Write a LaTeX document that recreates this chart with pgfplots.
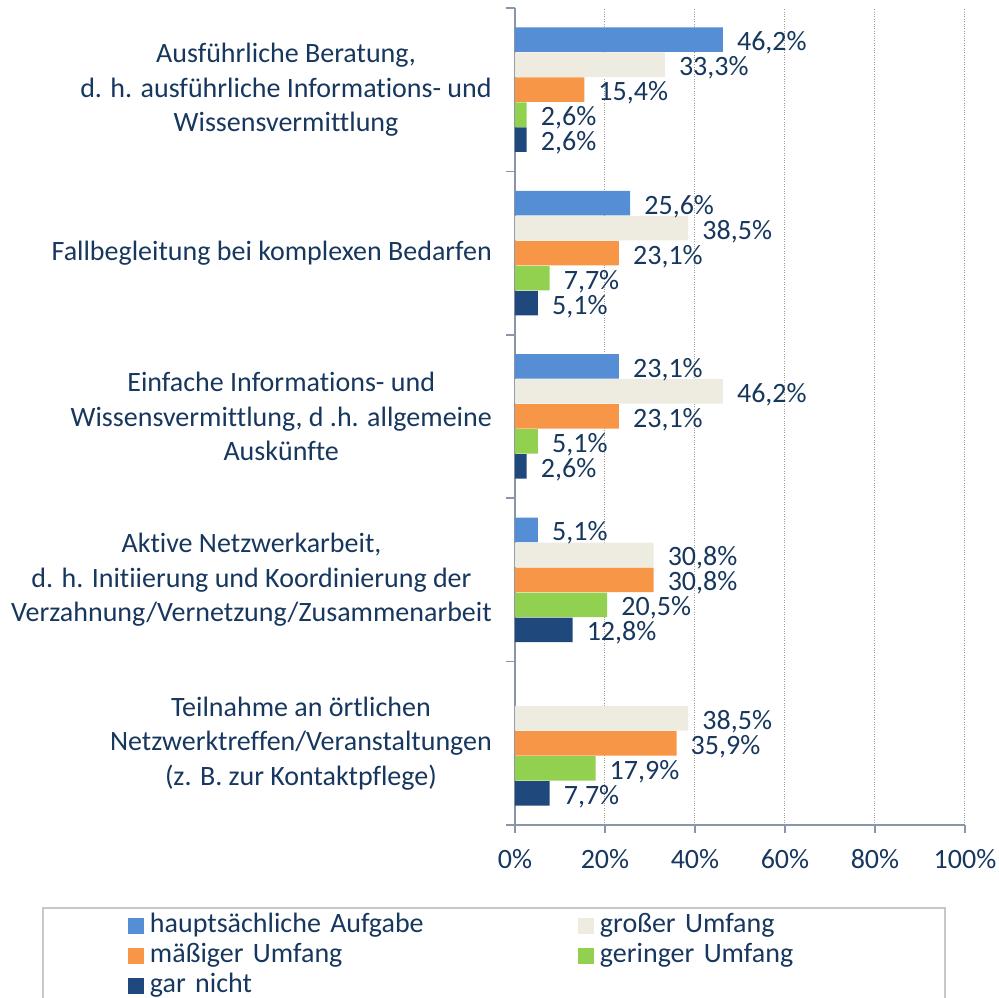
\documentclass[border=0pt]{standalone}
\usepackage{pgfplots}
\pgfplotsset{compat=1.18}
\usepackage{fontspec}
\setmainfont{Carlito}[Ligatures={NoCommon}]
\definecolor{c1}{HTML}{558ED5}
\definecolor{c2}{HTML}{EEECE1}
\definecolor{c3}{HTML}{F79646}
\definecolor{c4}{HTML}{92D050}
\definecolor{c5}{HTML}{1F497D}
\definecolor{txt}{HTML}{17375E}
\definecolor{axc}{HTML}{8B95A8}
\definecolor{grd}{HTML}{A39D8D}
\definecolor{lgf}{HTML}{C8C8C8}
\newcommand{\bigf}{\fontsize{28bp}{34.5bp}\selectfont}
\begin{document}
\begin{tikzpicture}
\begin{axis}[
  scale only axis, width=450bp, height=817bp,
  xbar=0.5bp, bar width=24.5bp,
  xmin=0, xmax=100, ymin=-0.5, ymax=4.5,
  axis x line*=bottom, axis y line*=left,
  axis line style={draw=axc, line width=1.5bp},
  /pgf/number format/assume math mode=true,
  xtick={0,20,40,60,80,100},
  xticklabels={0\%,20\%,40\%,60\%,80\%,100\%},
  tick align=outside,
  major tick length=8bp,
  x tick style={draw=axc, line width=1.5bp},
  xmajorgrids, grid style={draw=grd, dotted, line width=1bp},
  xticklabel style={font=\bigf, text=txt, inner sep=0pt, yshift=-16bp},
  ytick={0,1,2,3,4},
  y tick style={draw=none},
  yticklabels={
    {Teilnahme an örtlichen\\Netzwerktreffen/Veranstaltungen\\(z. B. zur Kontaktpflege)},
    {Aktive Netzwerkarbeit,\\d. h. Initiierung und Koordinierung der\\Verzahnung/Vernetzung/Zusammenarbeit},
    {Einfache Informations- und\\Wissensvermittlung, d .h. allgemeine\\Auskünfte},
    {Fallbegleitung bei komplexen Bedarfen},
    {Ausführliche Beratung,\\d. h. ausführliche Informations- und\\Wissensvermittlung}},
  yticklabel style={font=\bigf, text=txt, align=center, anchor=east, inner sep=0pt, xshift=-15bp},
  extra y ticks={-0.5,0.5,1.5,2.5,3.5,4.5},
  extra y tick labels={},
  extra y tick style={y tick style={draw=axc, line width=1.5bp}, major tick length=9bp},
  nodes near coords={\pgfmathprintnumber[fixed,fixed zerofill,precision=1,use comma]{\pgfplotspointmeta}\%},
  every node near coord/.append style={font=\bigf, text=txt, anchor=west, inner sep=0pt,
    text height=16bp, text depth=4bp, xshift=14bp, yshift=-5bp},
  legend columns=2, legend cell align=left, reverse legend,
  legend image code/.code={\fill[#1] (0bp,-8bp) rectangle (16bp,8bp);},
  legend style={draw=none, fill=none, at={(0,0)}, anchor=north west, xshift=-387bp, yshift=-89bp,
    inner sep=0pt, outer sep=0pt, font=\bigf, text=txt, row sep=6bp,
    nodes={inner sep=0pt, text height=18bp, text depth=6bp, text width=300bp, align=left},
    /tikz/every odd column/.append style={column sep=6bp},
    /tikz/every even column/.append style={column sep=128bp}},
]
\addplot[fill=c5, draw=none] coordinates {(2.6,4) (5.1,3) (2.6,2) (12.8,1) (7.7,0)};
\addlegendentry{gar nicht}
\addplot[fill=c4, draw=none] coordinates {(2.6,4) (7.7,3) (5.1,2) (20.5,1) (17.9,0)};
\addlegendentry{geringer Umfang}
\addplot[fill=c3, draw=none] coordinates {(15.4,4) (23.1,3) (23.1,2) (30.8,1) (35.9,0)};
\addlegendentry{mäßiger Umfang}
\addplot[fill=c2, draw=none] coordinates {(33.3,4) (38.5,3) (46.2,2) (30.8,1) (38.5,0)};
\addlegendentry{großer Umfang}
\addplot[fill=c1, draw=none] coordinates {(46.2,4) (25.6,3) (23.1,2) (5.1,1)};
\addlegendentry{hauptsächliche Aufgabe}
\end{axis}
\draw[lgf, line width=1.5bp] (-472bp,-190bp) |- (430bp,-83bp) -- (430bp,-190bp);
\pgfresetboundingbox
\path[use as bounding box] (-515bp,-173bp) rectangle (484bp,825bp);
\end{tikzpicture}
\end{document}
